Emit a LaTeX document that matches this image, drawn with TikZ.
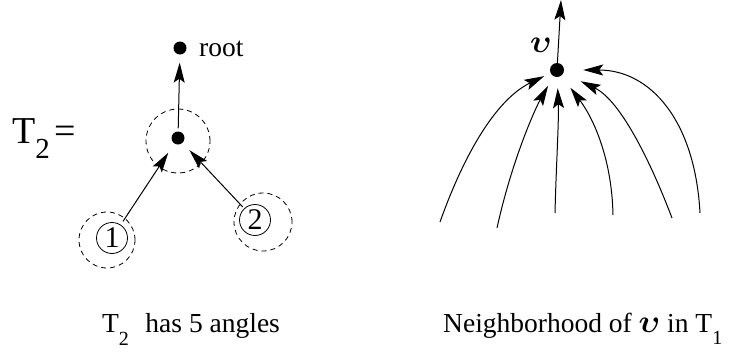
\documentclass[tikz,border=0pt]{standalone}
\usepackage{fontspec}
\setmainfont{Liberation Serif}
\usetikzlibrary{arrows.meta}
\usepackage{amsmath}
\newcommand{\bigups}{\scalebox{1.3}{$\boldsymbol{\upsilon}$}}
\tikzset{
  dot/.style={circle, fill=black, inner sep=0pt, minimum size=13pt},
  arr/.style={line width=1pt, -{Stealth[length=20pt,width=11pt,inset=4pt]}},
  dcirc/.style={circle, draw, dash pattern=on 5pt off 4pt, line width=0.8pt, inner sep=0pt},
  numc/.style={circle, draw, line width=0.8pt, inner sep=0pt, minimum size=31pt, font=\fontsize{30}{32}\selectfont},
  txt/.style={font=\fontsize{27.5}{32}\selectfont, inner sep=0pt}
}
\begin{document}
\begin{tikzpicture}[x=1pt, y=-1pt]
\useasboundingbox (0,0) rectangle (729,354);
% left tree
\node[txt, anchor=base west, font=\fontsize{38}{44}\selectfont] (lbl) at (12,143) {T\raisebox{-0.4em}{\fontsize{29}{32}\selectfont 2}\hspace{0.12em}=};
\node[dot] (root) at (180,48) {};
\node[txt, anchor=base west] (rootl) at (199,56) {root};
\node[dot] (mid) at (178,138) {};
\node[dcirc, minimum size=64pt] (midc) at (178,141) {};
\node[numc] (c1) at (112,238) {1};
\node[dcirc, minimum size=56pt] (c1o) at (107,240) {};
\node[numc] (c2) at (255,220) {2};
\node[dcirc, minimum size=58pt] (c2o) at (263,222) {};
\draw[arr, shorten >=8pt, shorten <=3pt] (mid) -- (root);
\draw[arr, shorten <=4pt, shorten >=11pt] (c1) -- (mid);
\draw[arr, shorten <=2pt, shorten >=10pt] (c2) -- (mid);
\node[txt, anchor=base west] (cap1) at (102,332) {T\raisebox{-0.5em}{\fontsize{20}{22}\selectfont 2}\hspace{0.6em}has 5 angles};
% right neighborhood
\node[dot, minimum size=14pt] (v) at (557,70) {};
\node[txt] (vl) at (541,45) {\bigups};
\coordinate (vtop) at (561,0);
\draw[arr] (v) -- (vtop);
\coordinate (b1) at (440,222);
\coordinate (b2) at (497,228);
\coordinate (b3) at (555,213);
\coordinate (b4) at (613,215);
\coordinate (b5) at (672,218);
\coordinate (b6) at (700,213);
\draw[arr, shorten >=7pt] (b1) .. controls (470,138) and (503,96) .. (v);
\draw[arr, shorten >=11pt] (b2) .. controls (512,160) and (535,109) .. (v);
\draw[arr, shorten >=11pt] (b3) .. controls (556,170) and (559,120) .. (v);
\draw[arr, shorten >=15pt] (b4) .. controls (612,160) and (594,119) .. (v);
\draw[arr, shorten >=19pt] (b5) .. controls (650,160) and (620,100) .. (v);
\draw[arr, shorten >=19pt] (b6) .. controls (695,120) and (650,70) .. (v);
\node[txt, anchor=base west] (cap2) at (443,332) {Neighborhood of \bigups{} in T\raisebox{-0.45em}{\fontsize{20}{22}\selectfont 1}};
\end{tikzpicture}
\end{document}
